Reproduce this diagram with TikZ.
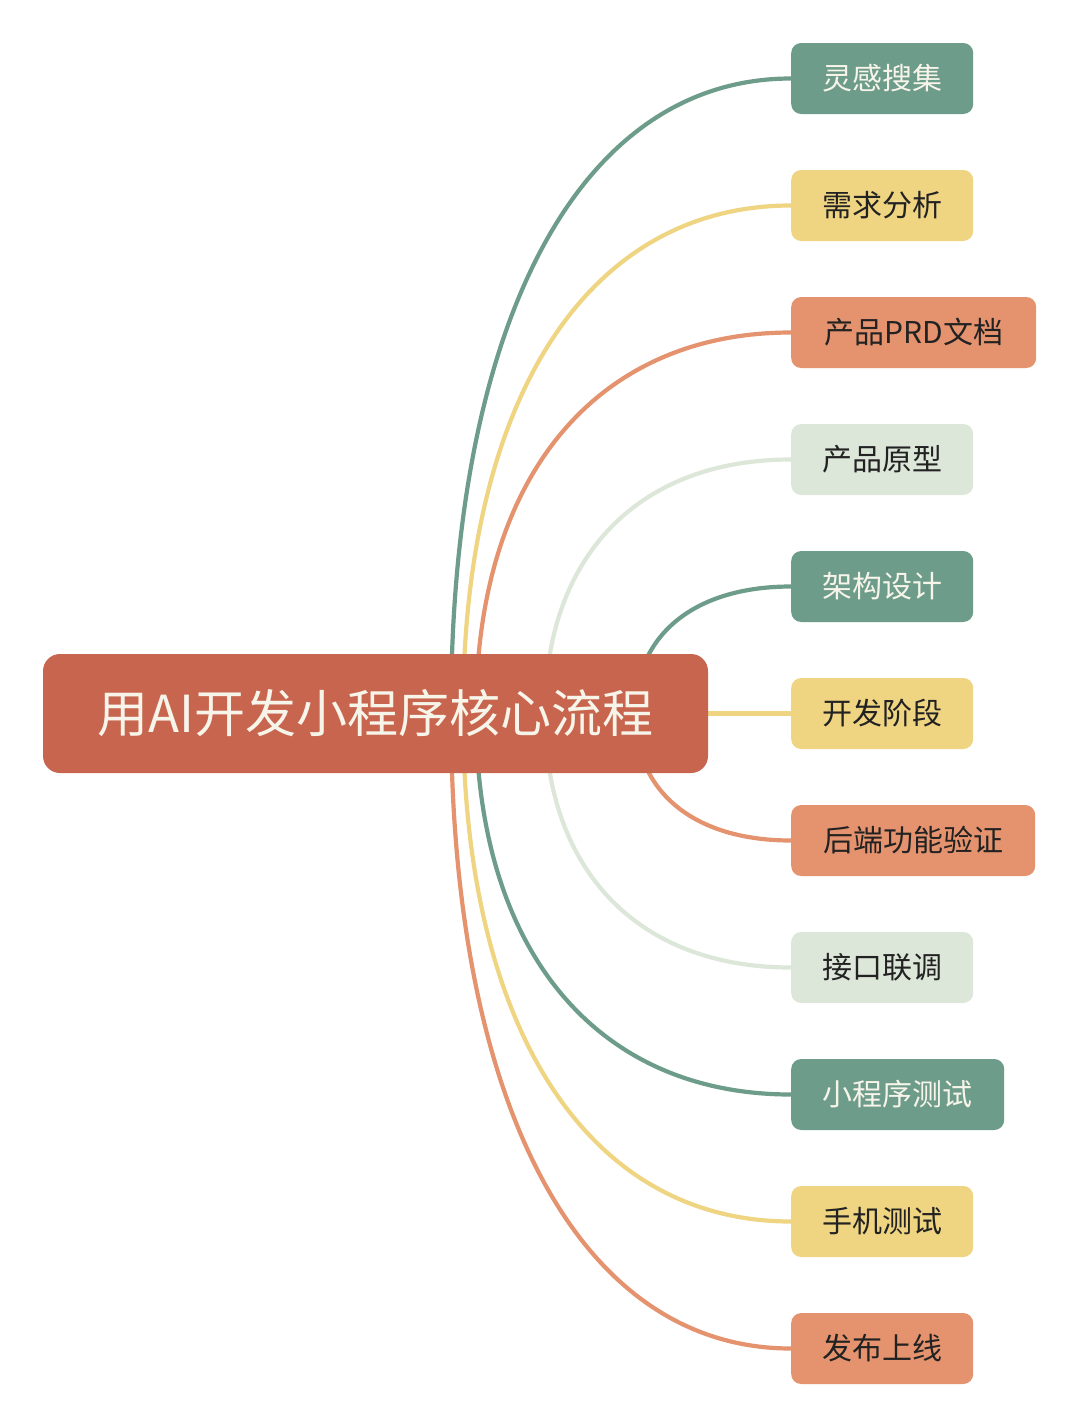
\documentclass[tikz,border=0pt]{standalone}
\usepackage{fontspec}
\setmainfont{Noto Sans CJK SC}
\definecolor{cgreen}{HTML}{6E9C8A}
\definecolor{cyellow}{HTML}{EFD482}
\definecolor{corange}{HTML}{E4936E}
\definecolor{clight}{HTML}{DDE7D9}
\definecolor{croot}{HTML}{C8654E}
\definecolor{ctext}{HTML}{222222}
\definecolor{cwhite}{HTML}{F7F4EA}
\pgfdeclarelayer{bglayer}
\pgfdeclarelayer{linelayer}
\pgfsetlayers{bglayer,linelayer,main}
\tikzset{
  rootbox/.style={fill=croot, rounded corners=17pt, minimum width=665pt, minimum height=119pt, inner sep=0pt, text=cwhite, font=\fontsize{51}{51}\selectfont},
  childbox/.style={rounded corners=10pt, minimum height=71pt, anchor=west, inner sep=0pt, font=\fontsize{30}{30}\selectfont},
  gbox/.style={childbox, fill=cgreen, text=cwhite},
  ybox/.style={childbox, fill=cyellow, text=ctext},
  obox/.style={childbox, fill=corange, text=ctext},
  lbox/.style={childbox, fill=clight, text=ctext},
  link/.style={line width=4.2pt, line cap=round}
}
\begin{document}
\begin{tikzpicture}[x=1pt,y=-1pt]
\begin{pgfonlayer}{bglayer}
\fill[white] (0,0) rectangle (1080,1427);
\end{pgfonlayer}
\useasboundingbox (0,0) rectangle (1080,1427);
% root
\node[rootbox] (root) at (375.5,713.5) {用AI开发小程序核心流程};
% child nodes
\node[gbox, minimum width=182pt] (c1) at (791,78.5) {灵感搜集};
\node[ybox, minimum width=182pt] (c2) at (791,205.5) {需求分析};
\node[obox, minimum width=245pt] (c3) at (791,332.5) {产品PRD文档};
\node[lbox, minimum width=182pt] (c4) at (791,459.5) {产品原型};
\node[gbox, minimum width=182pt] (c5) at (791,586.5) {架构设计};
\node[ybox, minimum width=182pt] (c6) at (791,713.5) {开发阶段};
\node[obox, minimum width=244pt] (c7) at (791,840.5) {后端功能验证};
\node[lbox, minimum width=182pt] (c8) at (791,967.5) {接口联调};
\node[gbox, minimum width=213pt] (c9) at (791,1094.5) {小程序测试};
\node[ybox, minimum width=182pt] (c10) at (791,1221.5) {手机测试};
\node[obox, minimum width=182pt] (c11) at (791,1348.5) {发布上线};
% start points (behind the root)
\coordinate (s1) at (451,713.5);
\coordinate (s2) at (463,713.5);
\coordinate (s3) at (476,713.5);
\coordinate (s4) at (545,713.5);
\coordinate (s5) at (635,713.5);
% connectors
\begin{pgfonlayer}{linelayer}
\draw[link, cgreen]  (s1) .. controls (451,319.8) and (580.2,78.5) .. (c1.west);
\draw[link, cyellow] (s2) .. controls (463,398.5) and (587.6,205.5) .. (c2.west);
\draw[link, corange] (s3) .. controls (476,477.3) and (595.7,332.5) .. (c3.west);
\draw[link, clight]  (s4) .. controls (545,556) and (638.5,459.5) .. (c4.west);
\draw[link, cgreen]  (s5) .. controls (635,634.8) and (694.3,586.5) .. (c5.west);
\draw[link, cyellow] (root.east) -- (c6.west);
\draw[link, corange] (s5) .. controls (635,792.2) and (694.3,840.5) .. (c7.west);
\draw[link, clight]  (s4) .. controls (545,871) and (638.5,967.5) .. (c8.west);
\draw[link, cgreen]  (s3) .. controls (476,949.7) and (595.7,1094.5) .. (c9.west);
\draw[link, cyellow] (s2) .. controls (463,1028.5) and (587.6,1221.5) .. (c10.west);
\draw[link, corange] (s1) .. controls (451,1107.2) and (580.2,1348.5) .. (c11.west);
\end{pgfonlayer}
\end{tikzpicture}
\end{document}
